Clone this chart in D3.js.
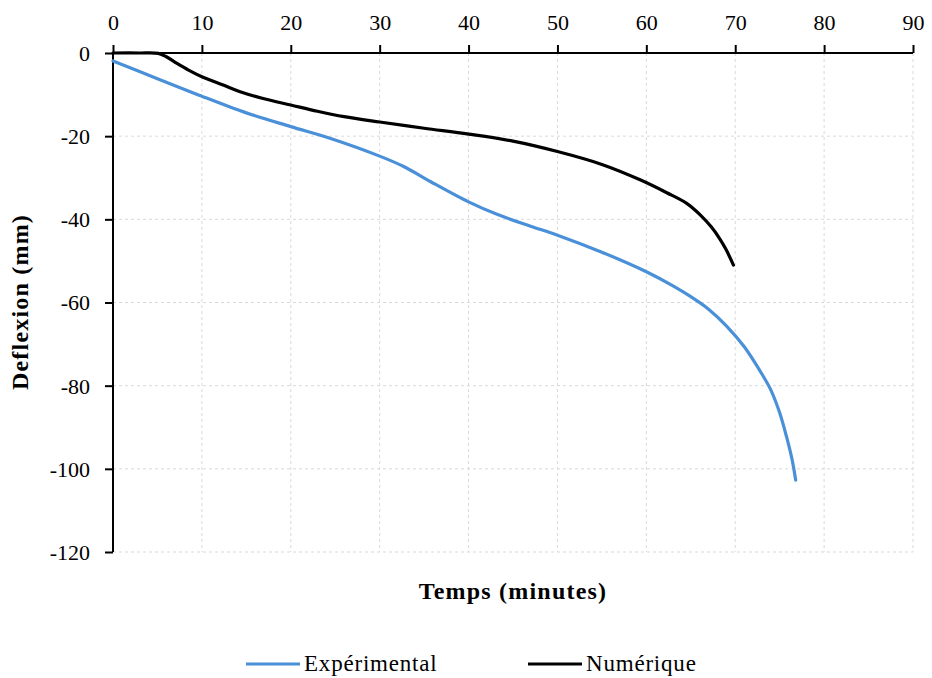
<!DOCTYPE html>
<html><head><meta charset="utf-8">
<script src="https://cdn.jsdelivr.net/npm/d3@7"></script>
<style>body{margin:0;background:#fff}svg{display:block}</style>
</head><body>
<svg id="c" width="932" height="678"></svg>
<script>
const xTicks = [0,10,20,30,40,50,60,70,80,90];
const yTicks = [0,-20,-40,-60,-80,-100,-120];
const expTime = [0,5,9.4,15,20,24.4,30,32.7,35.7,40,43.2,46.9,50,55,60,63,65,67,69,71,73,74,75,75.8,76.4,76.8];
const expDefl = [-1.9,-6.2,-9.9,-14.4,-17.7,-20.5,-24.8,-27.3,-30.9,-35.8,-38.8,-41.6,-43.8,-47.9,-52.6,-56,-58.6,-61.6,-65.6,-70.6,-77.2,-81,-86.5,-92.5,-97.8,-102.7];
const numTime = [0,3,5.1,6,7.2,8.5,10,12.4,14.3,17,20,23,26,30,35,40,45,50,55,59.3,62.3,64.5,66,67.3,68.3,69,69.8];
const numDefl = [0,0,-0.1,-0.9,-2.5,-4.1,-5.7,-7.7,-9.3,-11,-12.5,-14,-15.3,-16.6,-18.1,-19.5,-21.2,-23.7,-26.8,-30.5,-33.6,-36.1,-38.8,-41.8,-44.8,-47.4,-51];
const seriesNames = ["Expérimental","Numérique"];
const colors = ["#4a90d9","#000000"];

const svg = d3.select("#c");
const font = "'Liberation Serif', 'DejaVu Serif', serif";
const x = d3.scaleLinear().domain([0,90]).range([113,913]);
const y = d3.scaleLinear().domain([0,-120]).range([53,552]);

// grid
const g = svg.append("g");
g.selectAll("line.vx").data(xTicks.slice(1)).enter().append("line")
  .attr("x1",d=>x(d)).attr("x2",d=>x(d)).attr("y1",y(0)).attr("y2",y(-120))
  .attr("stroke","#d9d9d9").attr("stroke-width",1).attr("stroke-dasharray","3,3");
g.selectAll("line.hy").data(yTicks.slice(1)).enter().append("line")
  .attr("x1",x(0)).attr("x2",x(90)).attr("y1",d=>y(d)).attr("y2",d=>y(d))
  .attr("stroke","#d9d9d9").attr("stroke-width",1).attr("stroke-dasharray","3,3");

// axes
const xAxis = svg.append("g").attr("transform",`translate(0,${y(0)})`)
  .call(d3.axisTop(x).tickValues(xTicks).tickSize(8).tickPadding(15).tickFormat(d3.format("d")));
const yAxis = svg.append("g").attr("transform",`translate(${x(0)},0)`)
  .call(d3.axisLeft(y).tickValues(yTicks).tickSize(8).tickPadding(15).tickFormat(d=>d===0?"0":"-"+Math.abs(d)));
[xAxis,yAxis].forEach(a=>{
  a.select(".domain").attr("stroke","#000").attr("stroke-width",2).attr("d", a===xAxis ? `M${x(0)},0H${x(90)}` : `M0,${y(0)}V${y(-120)}`);
  a.selectAll(".tick line").attr("stroke","#000").attr("stroke-width",2);
  a.selectAll(".tick text").attr("font-family",font).attr("font-size",22).attr("fill","#000");
});
xAxis.selectAll(".tick text").attr("dy","0");
yAxis.selectAll(".tick text").attr("dy","0.34em");

// lines
const line = d3.line().x(d=>x(d[0])).y(d=>y(d[1])).curve(d3.curveCatmullRom.alpha(0.5));
const series = [d3.zip(expTime,expDefl), d3.zip(numTime,numDefl)];
series.forEach((s,i)=>{
  svg.append("path").datum(s).attr("d",line).attr("fill","none")
    .attr("stroke",colors[i]).attr("stroke-width",3.2).attr("stroke-linecap","round").attr("stroke-linejoin","round");
});

// titles
svg.append("text").attr("x",513).attr("y",599).attr("text-anchor","middle")
  .attr("font-family",font).attr("font-size",24).attr("font-weight","bold").attr("letter-spacing",1.2).text("Temps (minutes)");
svg.append("text").attr("transform","translate(28,302) rotate(-90)").attr("text-anchor","middle")
  .attr("font-family",font).attr("font-size",24).attr("font-weight","bold").attr("letter-spacing",1.2).text("Deflexion (mm)");

// legend
const legX = [246,528];
seriesNames.forEach((n,i)=>{
  svg.append("line").attr("x1",legX[i]).attr("x2",legX[i]+54).attr("y1",664).attr("y2",664)
    .attr("stroke",colors[i]).attr("stroke-width",3.2);
  svg.append("text").attr("x",legX[i]+58).attr("y",671).attr("font-family",font).attr("font-size",23)
    .attr("letter-spacing",0.8).attr("fill","#000").text(n);
});
</script>
</body></html>
